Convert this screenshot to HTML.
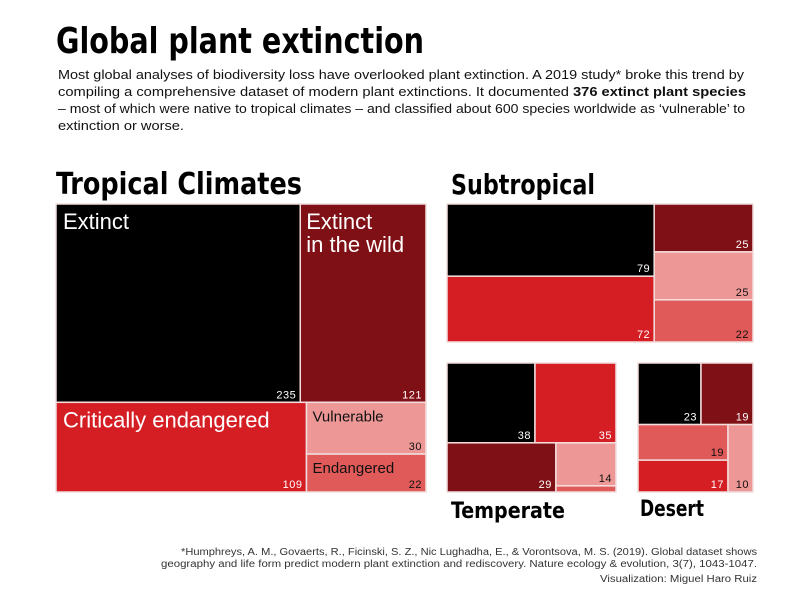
<!DOCTYPE html>
<html><head><meta charset="utf-8"><style>
html,body{margin:0;padding:0;background:#fff;}
svg{display:block;font-family:"Liberation Sans",sans-serif;}
</style></head><body>
<svg id="chart" width="800" height="600" viewBox="0 0 800 600">
<text x="56" y="53" font-family="DejaVu Sans Condensed, Liberation Sans, sans-serif" font-weight="bold" font-size="36" textLength="368" lengthAdjust="spacingAndGlyphs">Global plant extinction</text>
<g font-size="13" fill="#111">
<text x="58" y="79" textLength="686" lengthAdjust="spacingAndGlyphs">Most global analyses of biodiversity loss have overlooked plant extinction. A 2019 study* broke this trend by</text>
<text x="58" y="96" textLength="688" lengthAdjust="spacingAndGlyphs">compiling a comprehensive dataset of modern plant extinctions. It documented <tspan font-weight="bold">376 extinct plant species</tspan></text>
<text x="58" y="113" textLength="687" lengthAdjust="spacingAndGlyphs">– most of which were native to tropical climates – and classified about 600 species worldwide as ‘vulnerable’ to</text>
<text x="58" y="130" textLength="126" lengthAdjust="spacingAndGlyphs">extinction or worse.</text>
</g>
<g id="maps"></g>
<g font-size="10" fill="#333" text-anchor="end">
<text x="757" y="555" textLength="576" lengthAdjust="spacingAndGlyphs">*Humphreys, A. M., Govaerts, R., Ficinski, S. Z., Nic Lughadha, E., &amp; Vorontsova, M. S. (2019). Global dataset shows</text>
<text x="757" y="567" textLength="596" lengthAdjust="spacingAndGlyphs">geography and life form predict modern plant extinction and rediscovery. Nature ecology &amp; evolution, 3(7), 1043-1047.</text>
<text x="757" y="582" textLength="157" lengthAdjust="spacingAndGlyphs">Visualization: Miguel Haro Ruiz</text>
</g>
</svg>
<script>
const categories = ["Extinct","Extinct in the wild","Critically endangered","Vulnerable","Endangered"];
const tropicalValues = [235,121,109,30,22];
const subtropicalValues = [79,25,72,25,22];
const temperateValues = [38,29,35,14,2];
const desertValues = [23,19,17,10,19];
const colors = ["#000000","#7f1015","#d41e24","#ed9896","#e05a59"];
const lightText = [false,false,false,true,true];

const panels = [
  {name:"Tropical Climates", vals:tropicalValues, rect:[56,204,370,288], tree:{d:"v",c:[{d:"h",c:[0,1]},{d:"h",c:[2,{d:"v",c:[3,4]}]}]}, title:[56,194,246,30], labels:true, valFont:11},
  {name:"Subtropical", vals:subtropicalValues, rect:[447,204,306,138], tree:{d:"h",c:[{d:"v",c:[0,2]},{d:"v",c:[1,3,4]}]}, title:[451,194,144,28], valFont:11},
  {name:"Temperate", vals:temperateValues, rect:[447,363,169,129], tree:{d:"v",c:[{d:"h",c:[0,2]},{d:"h",c:[1,{d:"v",c:[3,4]}]}]}, title:[451,518,114,22], valFont:11},
  {name:"Desert", vals:desertValues, rect:[638,363,115,129], tree:{d:"v",c:[{d:"h",c:[0,1]},{d:"h",c:[{d:"v",c:[4,2]},3]}]}, title:[640,516,64,22], valFont:11}
];
const NS="http://www.w3.org/2000/svg";
const root=document.getElementById("maps");
function total(n,v){return typeof n==="number"?v[n]:n.c.reduce((s,k)=>s+total(k,v),0);}
function layout(n,v,x,y,w,h,out){
  if(typeof n==="number"){out.push({i:n,x,y,w,h});return;}
  const t=total(n,v);let off=0;
  n.c.forEach(k=>{const f=total(k,v)/t;
    if(n.d==="h"){layout(k,v,x+off,y,w*f,h,out);off+=w*f;}
    else{layout(k,v,x,y+off,w,h*f,out);off+=h*f;}});
}
function el(tag,attrs,parent){const e=document.createElementNS(NS,tag);for(const k in attrs)e.setAttribute(k,attrs[k]);parent.appendChild(e);return e;}
panels.forEach(p=>{
  const g=el("g",{},root);
  
  
  const t=el("text",{x:p.title[0],y:p.title[1],"font-family":"DejaVu Sans Condensed, Liberation Sans, sans-serif","font-weight":"bold","font-size":p.title[3],textLength:p.title[2],lengthAdjust:"spacingAndGlyphs"},g);
  t.textContent=p.name;
  
  
  const out=[];
  layout(p.tree,p.vals,p.rect[0],p.rect[1],p.rect[2],p.rect[3],out);
  out.forEach(r=>{
    const rc=el("rect",{x:r.x,y:r.y,width:r.w,height:r.h,fill:colors[r.i],stroke:"#f2dede","stroke-width":1.5},g);
    
    
    const fill=lightText[r.i]?"#111":"#fff";
    if(r.h>9){
      const vt=el("text",{x:r.x+r.w-4,y:r.y+r.h-4,"text-anchor":"end","font-size":p.valFont,fill:fill,"letter-spacing":"0.5"},g);
      vt.textContent=p.vals[r.i];
      
      
    }
    if(p.labels){
      const lines=r.i===1?["Extinct","in the wild"]:[categories[r.i]];
      const fs=r.i<3?22:15;
      lines.forEach((ln,j)=>{
        const lt=el("text",{x:r.x+(r.i<3&&r.i!==1?7:6),y:r.y+(r.i<3?25:19)+j*23,"font-size":fs,fill:fill},g);
        lt.textContent=ln;
        
        
      });
    }
  });
});
</script>
</body></html>
